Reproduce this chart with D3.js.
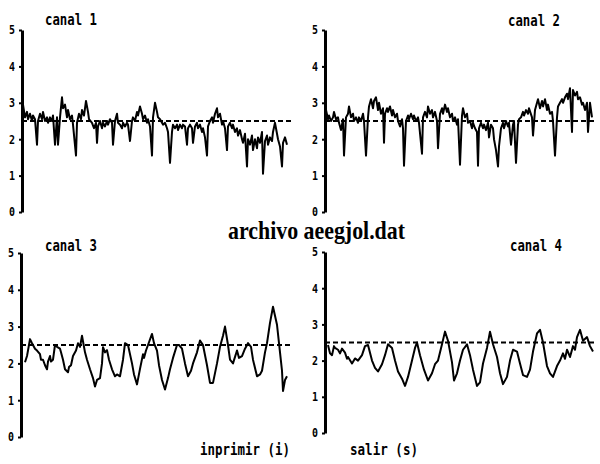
<!DOCTYPE html>
<html>
<head>
<meta charset="utf-8">
<script src="https://cdn.jsdelivr.net/npm/d3@7"></script>
<style>
  body { margin: 0; background: #fff; }
  svg { display: block; }
</style>
</head>
<body>
<svg id="canvas" width="600" height="464"></svg>
<script>
// nombres y ejes
let canales = ['canal 1', 'canal 2', 'canal 3', 'canal 4']
let ticksY = [0, 1, 2, 3, 4, 5]
let referencia = 2.5
let muestras = [0, 266]
let titulo = 'archivo aeegjol.dat'
let opciones = ['inprimir (i)', 'salir (s)']

// [muestra, voltios]
let canal1 = [
  [1,2.95],[3,2.6],[5,2.75],[6,2.55],[8,2.7],[10,2.5],[11,2.65],[13,2.55],[15,1.85],[16,2.5],
  [18,2.7],[20,2.55],[21,2.75],[23,2.5],[25,2.6],[26,2.45],[28,2.6],[30,2.5],[31,2.65],[33,1.85],
  [35,2.6],[36,1.85],[38,2.6],[40,3.15],[41,2.85],[43,2.95],[45,2.6],[46,2.8],[48,2.55],[50,2.65],
  [51,2.4],[54,1.55],[55,2.45],[57,2.7],[59,2.55],[60,2.8],[62,2.65],[64,3.05],[66,2.75],[67,2.55],
  [70,2.45],[72,2.3],[74,2.45],[75,1.9],[76,2.35],[78,2.5],[80,2.3],[81,2.45],[83,2.35],[85,2.5],
  [86,2.4],[88,2.55],[90,2.45],[91,1.85],[93,2.5],[95,2.7],[96,2.45],[98,2.4],[100,2.3],[101,2.45],
  [103,2.35],[105,2.45],[106,2.4],[108,1.95],[110,2.5],[111,2.6],[113,2.5],[115,2.75],[116,2.65],[118,2.9],
  [120,2.7],[121,2.55],[123,2.65],[125,2.45],[126,2.55],[128,2.35],[130,1.55],[131,2.6],[133,3.0],[135,2.75],
  [136,2.6],[138,2.55],[140,2.45],[141,2.4],[143,2.45],[145,2.3],[146,2.2],[148,1.35],[150,2.2],[151,2.4],
  [153,2.3],[155,2.4],[156,2.25],[158,2.4],[160,2.3],[161,2.4],[163,2.35],[165,1.85],[166,2.3],[168,2.4],
  [170,2.3],[171,1.9],[173,2.35],[175,2.45],[176,2.3],[178,2.4],[180,2.2],[181,2.3],[183,2.05],[185,1.55],
  [186,2.35],[188,2.5],[190,2.6],[191,2.45],[193,2.7],[195,2.85],[196,2.6],[198,2.7],[200,2.4],[201,2.5],
  [203,2.3],[205,1.7],[206,2.35],[208,2.45],[210,2.3],[211,2.4],[213,2.2],[215,2.3],[216,2.1],[218,2.25],
  [220,2.0],[221,1.9],[223,2.15],[225,1.25],[226,2.0],[228,1.85],[230,2.1],[231,1.7],[233,2.0],[235,1.75],
  [236,2.05],[238,1.9],[240,2.2],[241,1.05],[243,1.95],[245,2.1],[246,1.85],[248,2.05],[250,1.95],[251,2.2],
  [253,2.45],[255,2.15],[256,2.0],[258,1.8],[260,1.25],[261,1.9],[263,2.05],[265,1.85]
]

let canal2 = [
  [1,2.8],[3,2.55],[4,2.65],[6,2.5],[8,2.6],[9,2.75],[11,2.55],[13,2.6],[14,2.45],[16,2.25],
  [18,2.55],[19,1.55],[21,2.6],[23,2.7],[24,2.9],[26,2.6],[28,2.7],[29,2.5],[31,2.6],[33,2.45],
  [34,2.6],[36,2.5],[38,2.7],[39,2.5],[41,1.55],[43,2.6],[44,2.9],[46,3.1],[48,2.85],[49,3.05],
  [51,3.15],[53,2.8],[54,3.0],[56,2.7],[58,2.85],[59,1.9],[60,2.7],[62,2.85],[63,2.75],[65,2.9],
  [67,2.65],[68,2.8],[70,2.6],[72,2.7],[73,2.5],[75,2.35],[77,2.55],[78,2.3],[79,1.27],[81,2.5],
  [83,2.65],[84,2.55],[86,2.7],[88,2.55],[89,2.65],[91,2.5],[93,2.6],[94,2.45],[97,1.6],[98,2.6],
  [100,2.75],[102,2.6],[103,2.9],[105,2.7],[107,2.8],[108,2.6],[110,2.75],[112,2.5],[113,1.75],[115,2.7],
  [117,2.85],[118,2.7],[120,2.95],[122,2.75],[123,2.85],[125,2.6],[127,2.7],[128,2.5],[130,2.6],[132,2.4],
  [133,2.55],[135,1.3],[137,2.65],[138,2.85],[140,2.6],[142,2.7],[143,2.45],[145,2.5],[147,2.3],[148,2.45],
  [150,2.3],[152,2.2],[153,1.27],[154,2.3],[156,2.45],[158,2.3],[159,2.4],[161,2.25],[163,2.45],[164,2.05],
  [166,2.4],[168,2.3],[169,2.0],[171,1.7],[173,1.25],[174,1.8],[176,2.3],[178,2.45],[179,2.3],[181,2.5],
  [183,2.35],[184,2.45],[186,1.85],[188,2.4],[189,2.5],[191,1.35],[193,2.4],[194,2.55],[196,2.6],[198,2.75],
  [199,2.65],[201,2.8],[203,2.7],[204,2.85],[207,2.6],[208,2.1],[210,2.8],[212,3.0],[213,3.1],[215,2.85],
  [217,3.05],[218,2.9],[220,3.1],[222,2.8],[223,2.95],[225,2.7],[227,2.75],[228,2.5],[230,1.55],[232,2.6],
  [233,2.9],[235,3.0],[237,3.1],[238,3.0],[240,3.15],[242,3.25],[243,3.1],[245,3.4],[247,2.2],[248,3.35],
  [250,3.2],[252,3.3],[253,3.1],[255,3.15],[257,2.95],[258,3.0],[260,2.8],[262,3.0],[263,2.2],[265,3.0],
  [267,2.6]
]

let canal3 = [
  [4,2.03],[6,2.2],[7,2.35],[9,2.66],[11,2.55],[12,2.5],[14,2.4],[16,2.35],[19,2.25],[20,2.1],[22,2.1],[24,1.95],[26,1.84],
  [27,2.05],[29,2.2],[30,2.05],[32,2.1],[34,2.5],[36,2.45],[39,2.4],[40,2.3],[42,2.1],[44,1.84],[47,1.76],[48,1.9],[50,1.95],
  [52,2.2],[55,2.35],[57,2.55],[59,2.45],[61,2.75],[64,2.3],[66,2.1],[69,1.84],[72,1.6],[74,1.37],[76,1.55],
  [79,1.6],[81,2.0],[82,2.44],[84,2.3],[86,2.36],[88,2.1],[91,1.84],[94,1.65],[96,1.7],[99,1.65],[102,2.1],
  [104,2.55],[107,2.5],[111,2.0],[113,1.7],[116,1.43],[119,1.85],[122,2.25],[123,2.15],[125,2.35],[127,2.5],[131,2.8],
  [133,2.55],[136,2.35],[138,1.95],[141,1.55],[144,1.29],[147,1.6],[149,1.84],[152,2.15],[156,2.5],[158,2.5],
  [161,2.4],[164,2.0],[167,1.65],[170,1.8],[172,2.0],[176,2.3],[179,2.62],[182,2.5],[186,1.95],[189,1.47],
  [192,1.47],[196,2.0],[199,2.45],[202,2.75],[204,3.0],[207,2.5],[209,2.1],[212,2.0],[216,2.35],[218,2.15],
  [221,2.2],[224,2.4],[227,2.55],[230,2.45],[232,2.1],[236,1.65],[239,1.7],[241,1.8],[244,2.3],[246,2.55],
  [249,3.1],[252,3.54],[256,3.05],[259,2.3],[261,1.8],[262,1.25],[264,1.55],[266,1.65]
]

let canal4 = [
  [3,2.43],[5,2.2],[7,2.15],[9,2.4],[10,2.35],[13,2.3],[15,2.2],[17,2.33],[20,2.22],[22,2.05],[23,2.1],[27,1.92],[30,2.06],[33,2.0],
  [37,2.15],[40,2.4],[43,2.43],[47,2.0],[50,1.8],[53,1.7],[57,1.9],[60,2.15],[63,2.45],[67,2.35],
  [70,2.0],[73,1.7],[77,1.5],[80,1.3],[83,1.55],[87,2.0],[90,2.35],[92,2.5],[95,2.15],[99,1.75],
  [103,1.45],[107,1.65],[110,1.9],[113,2.0],[117,2.45],[120,2.8],[123,2.55],[127,1.95],[129,1.45],[132,1.65],
  [135,2.0],[138,2.3],[142,2.45],[145,2.15],[148,1.75],[152,1.3],[155,1.4],[158,1.92],[162,2.35],[165,2.8],
  [168,2.45],[172,2.1],[175,1.65],[178,1.35],[182,1.55],[185,2.0],[188,2.3],[192,2.25],[195,1.92],[198,1.6],
  [202,1.55],[205,1.75],[208,2.25],[212,2.75],[215,2.85],[218,2.5],[222,1.85],[225,1.65],[228,1.55],[232,1.85],
  [235,2.0],[238,2.2],[240,2.05],[242,2.3],[245,2.1],[248,2.4],[250,2.3],[252,2.65],[255,2.85],[258,2.55],[262,2.65],[265,2.4],
  [268,2.25]
]

let series = [canal1, canal2, canal3, canal4]

let canvas = d3.select('#canvas')

// posicion de cada panel en la pantalla
let paneles = [
  {x0: 22, yBase: 212, yTope: 30, tx: 45, ty: 25},
  {x0: 325, yBase: 212, yTope: 30, tx: 508, ty: 26},
  {x0: 21, yBase: 437, yTope: 253, tx: 45, ty: 251},
  {x0: 325, yBase: 433, yTope: 252, tx: 510, ty: 251}
]

let fuente = '"DejaVu Sans Mono", monospace'

let drawPanel = (panel, i) => {
    let datos = series[i]

    let xScale = d3.scaleLinear()
        .domain(muestras)
        .range([panel.x0, panel.x0 + 266])

    let yScale = d3.scaleLinear()
        .domain([0, 5])
        .range([panel.yBase, panel.yTope])

    let g = canvas.append('g')

    // linea de referencia punteada
    g.append('line')
        .attr('x1', xScale(0))
        .attr('x2', xScale(270))
        .attr('y1', yScale(referencia))
        .attr('y2', yScale(referencia))
        .attr('stroke', '#000')
        .attr('stroke-width', 2)
        .attr('stroke-dasharray', '5,3')

    let linea = d3.line()
        .x((d) => xScale(d[0]))
        .y((d) => yScale(d[1]))

    g.append('path')
        .datum(datos)
        .attr('d', linea)
        .attr('fill', 'none')
        .attr('stroke', '#000')
        .attr('stroke-width', 2)
        .attr('stroke-linejoin', 'round')

    let yAxis = d3.axisLeft(yScale)
        .tickValues(ticksY)
        .tickFormat(d3.format('d'))
        .tickSize(3)
        .tickSizeOuter(0)
        .tickPadding(4)

    let eje = g.append('g')
        .attr('transform', 'translate(' + panel.x0 + ',0)')
        .call(yAxis)

    eje.select('.domain')
        .attr('stroke', '#000')
        .attr('stroke-width', 3)
    eje.selectAll('.tick line')
        .attr('stroke', '#000')
        .attr('stroke-width', 2)
    eje.selectAll('.tick text')
        .attr('font-family', fuente)
        .attr('font-weight', 'bold')
        .attr('font-size', 12)
        .attr('fill', '#000')
        .attr('textLength', 6)
        .attr('lengthAdjust', 'spacingAndGlyphs')

    canvas.append('text')
        .attr('x', panel.tx)
        .attr('y', panel.ty)
        .attr('font-family', fuente)
        .attr('font-weight', 'bold')
        .attr('font-size', 15)
        .attr('textLength', 52)
        .attr('lengthAdjust', 'spacingAndGlyphs')
        .text(canales[i])
}

paneles.forEach(drawPanel)

canvas.append('text')
    .attr('x', 228)
    .attr('y', 239)
    .attr('font-family', '"Liberation Serif", serif')
    .attr('font-weight', 'bold')
    .attr('font-size', 26)
    .attr('textLength', 177)
    .attr('lengthAdjust', 'spacingAndGlyphs')
    .text(titulo)

canvas.append('text')
    .attr('x', 200)
    .attr('y', 455)
    .attr('font-family', fuente)
    .attr('font-weight', 'bold')
    .attr('font-size', 15)
    .attr('textLength', 90)
    .attr('lengthAdjust', 'spacingAndGlyphs')
    .text(opciones[0])

canvas.append('text')
    .attr('x', 350)
    .attr('y', 455)
    .attr('font-family', fuente)
    .attr('font-weight', 'bold')
    .attr('font-size', 15)
    .attr('textLength', 68)
    .attr('lengthAdjust', 'spacingAndGlyphs')
    .text(opciones[1])
</script>
</body>
</html>
